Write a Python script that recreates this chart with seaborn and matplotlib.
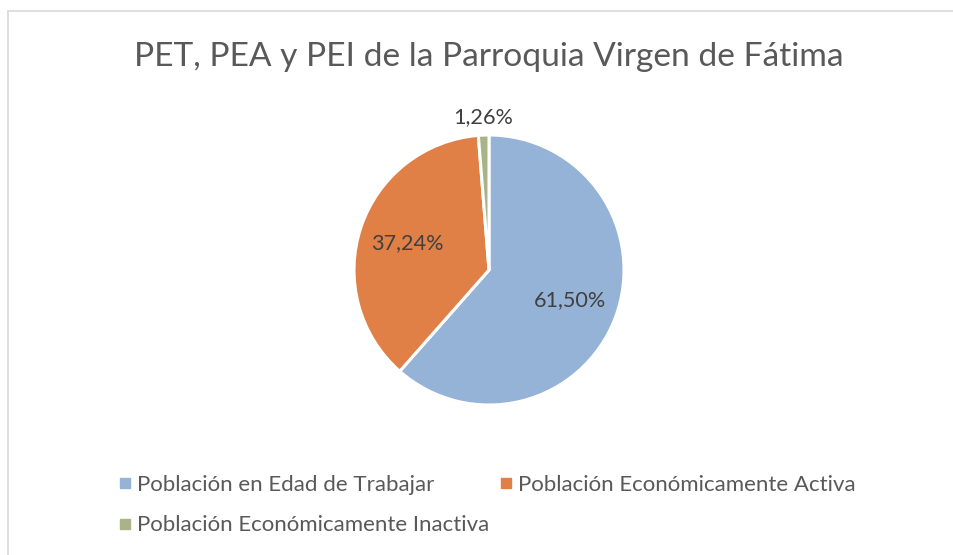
import numpy as np
import matplotlib
matplotlib.use("Agg")
import matplotlib.pyplot as plt
from matplotlib.lines import Line2D
import seaborn as sns

title = "PET, PEA y PEI de la Parroquia Virgen de Fátima"
categories = [
    "Población en Edad de Trabajar",
    "Población Económicamente Activa",
    "Población Económicamente Inactiva",
]
shares = [61.50, 37.24, 1.26]
colors = ["#95B3D6", "#E08046", "#A8B488"]

sns.set_theme(style="white")
plt.rcParams["font.family"] = ["Lato", "DejaVu Sans"]

fig = plt.figure(figsize=(9.54, 5.55), dpi=100)
fig.patch.set_facecolor("white")

# chart-area frame (top and left edges visible)
fig.add_artist(Line2D([8 / 954, 8 / 954], [0, 1 - 11 / 555], transform=fig.transFigure,
                      color="#D9D9D9", lw=1.2))
fig.add_artist(Line2D([8 / 954, 1], [1 - 11 / 555, 1 - 11 / 555], transform=fig.transFigure,
                      color="#D9D9D9", lw=1.2))

ax = fig.add_axes([354 / 954, 150 / 555, 270 / 954, 270 / 555])
wedges, _ = ax.pie(
    shares,
    colors=colors,
    startangle=90,
    counterclock=False,
    radius=1.0,
    wedgeprops=dict(edgecolor="white", linewidth=2.2),
)
ax.set_xlim(-1, 1)
ax.set_ylim(-1, 1)
ax.set_aspect("equal")
ax.axis("off")

# percentage labels: inside for large slices, outside for the thin one
for w, v in zip(wedges, shares):
    mid = np.deg2rad((w.theta1 + w.theta2) / 2)
    r = 0.64 if v > 5 else 1.13
    ax.text(r * np.cos(mid), r * np.sin(mid), f"{v:.2f}%".replace(".", ","),
            ha="center", va="center", fontsize=15.6, color="#404040", clip_on=False)

fig.text(489 / 954, 1 - 57 / 555, title, ha="center", va="center",
         fontsize=24.1, color="#595959")

# legend laid out row by row
order = [0, 2, 1]
handles = [Line2D([], [], marker="s", linestyle="none", markersize=6.5,
                  markerfacecolor=colors[i], markeredgecolor=colors[i]) for i in order]
labels = [categories[i] for i in order]
fig.legend(handles, labels, ncol=2, frameon=False, fontsize=16,
           loc="upper left", bbox_to_anchor=(119 / 954, 1 - 475 / 555),
           handlelength=0.5, handletextpad=0.3, columnspacing=0.5,
           labelspacing=0.92, labelcolor="#595959", borderaxespad=0, borderpad=0)

fig.savefig("out.png", dpi=100, facecolor="white")
